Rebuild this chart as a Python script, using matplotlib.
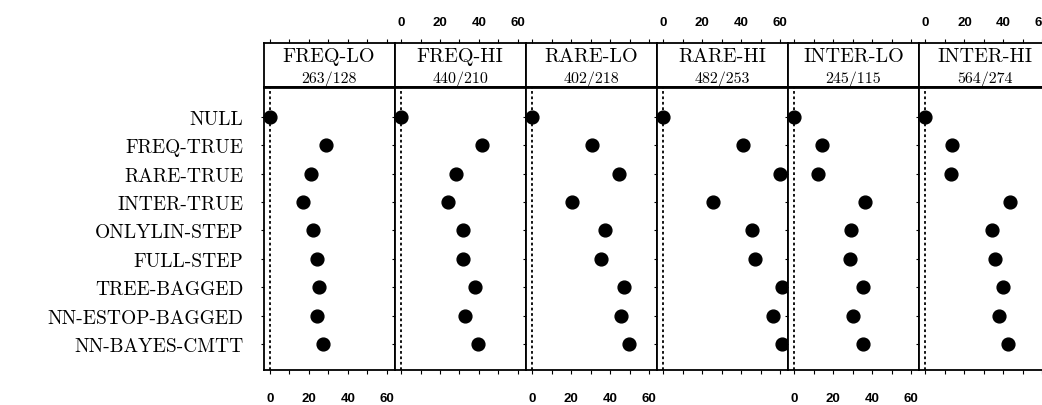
import matplotlib
matplotlib.use('Agg')
import matplotlib.pyplot as plt
import numpy as np


# row labels (top to bottom)
methods = ['NULL', 'FREQ-TRUE', 'RARE-TRUE', 'INTER-TRUE', 'ONLYLIN-STEP',
           'FULL-STEP', 'TREE-BAGGED', 'NN-ESTOP-BAGGED', 'NN-BAYES-CMTT']

# panel titles and counts
panels = ['FREQ-LO', 'FREQ-HI', 'RARE-LO', 'RARE-HI', 'INTER-LO', 'INTER-HI']
counts = ['263/128', '440/210', '402/218', '482/253', '245/115', '564/274']

# values, one list per panel
freq_lo = [0, 29, 21, 17, 22, 24, 25, 24, 27]
freq_hi = [0, 41.5, 28, 24, 32, 32, 38, 33, 39.5]
rare_lo = [0, 30.8, 44.5, 20.6, 37.4, 35.4, 47.4, 45.7, 49.6]
rare_hi = [0, 40.8, 59.9, 25.7, 45.5, 47, 61, 56.3, 61]
inter_lo = [0, 14.2, 12.2, 36.5, 29.3, 28.8, 35, 30, 35.5]
inter_hi = [0, 13.5, 13, 43.6, 34, 35.7, 39.7, 37.7, 42.6]

x_ticks = [0, 10, 20, 30, 40, 50, 60]
x_labels = ['0', '', '20', '', '40', '', '60']


# pixel box -> figure fraction
def box(x0, y0, w, h, W=1042, H=406):
    return [x0 / W, 1 - (y0 + h) / H, w / W, h / H]


def main():
    fig = plt.figure(figsize=(10.42, 4.06), dpi=100)
    serif = 'cmr10'
    num_font = dict(family='Liberation Sans', weight='bold', size=9.5)
    values = [freq_lo, freq_hi, rare_lo, rare_hi, inter_lo, inter_hi]
    xlim = (-3.3, 64)
    ylim = (8.92, -1.06)
    pw = 131.1

    for i, vals in enumerate(values):
        left = 263.5 + pw * i

        # header strip
        hx = fig.add_axes(box(left, 44, pw, 44))
        hx.set_xlim(*xlim)
        hx.set_ylim(0, 1)
        hx.set_yticks([])
        hx.set_xticks(x_ticks)
        hx.tick_params(axis='x', bottom=False, top=True, direction='out',
                       length=3, width=0.8, labelbottom=False,
                       labeltop=(i % 2 == 1), pad=8)
        hx.set_xticklabels(x_labels, **num_font)
        for s in hx.spines.values():
            s.set_linewidth(1.3)
        hx.text(0.5, 0.58, panels[i], transform=hx.transAxes, ha='center',
                va='baseline', family=serif, fontsize=14.5)
        hx.text(0.5, 0.12, counts[i], transform=hx.transAxes, ha='center',
                va='baseline', family=serif, fontsize=11.5)

        # dot panel
        ax = fig.add_axes(box(left, 88, pw, 283))
        ax.set_xlim(*xlim)
        ax.set_ylim(*ylim)
        ax.axvline(0, color='black', linestyle=(0, (1.5, 1.5)), lw=1.3,
                   zorder=1)
        ax.scatter(vals, np.arange(len(methods)), s=85, color='black',
                   zorder=3, clip_on=False)
        ax.set_xticks(x_ticks)
        ax.set_xticklabels(x_labels, **num_font)
        ax.tick_params(axis='x', bottom=True, top=False, direction='out',
                       length=3, width=0.8, labelbottom=(i % 2 == 0), pad=13)
        ax.set_yticks(np.arange(len(methods)))
        if i == 0:
            ax.set_yticklabels(methods, family=serif, fontsize=14)
            ax.tick_params(axis='y', left=True, right=True, direction='out',
                           length=2, width=0.8, pad=12.5)
        else:
            ax.set_yticklabels([])
            ax.tick_params(axis='y', left=True, right=True, direction='out',
                           length=2, width=0.8)
        for s in ax.spines.values():
            s.set_linewidth(1.3)
        ax.spines['top'].set_linewidth(2)

    fig.savefig('out.png', dpi=100)


if __name__ == '__main__':
    main()
